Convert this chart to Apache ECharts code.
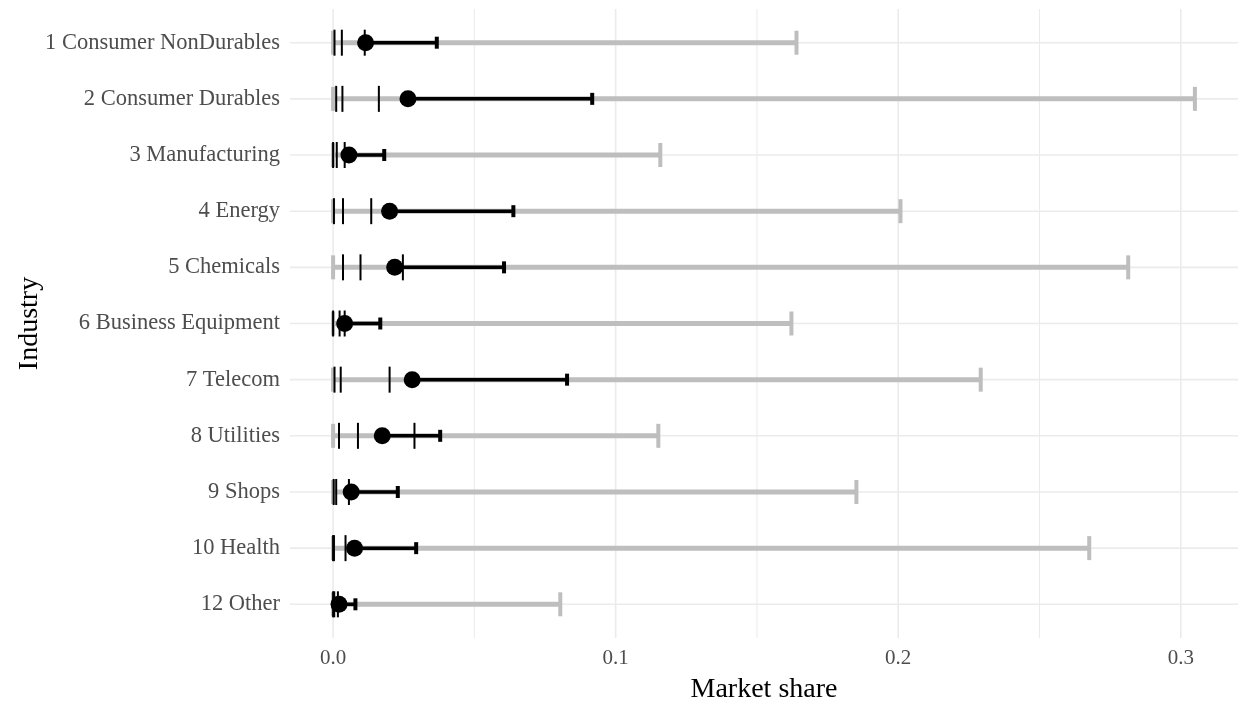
<!doctype html>
<html lang="en">
<head>
    <meta charset="UTF-8">
    <title>Market share by industry</title>
    <script src="https://cdn.jsdelivr.net/npm/echarts@6/dist/echarts.min.js"></script>
    <style>
        html, body { margin: 0; padding: 0; background: #fff; }
        #chart { width: 1238px; height: 702px; }
    </style>
</head>
<body>
<div id="chart"></div>
<script>
    // industries, top to bottom
    const industries = [
        '1 Consumer NonDurables', '2 Consumer Durables', '3 Manufacturing', '4 Energy',
        '5 Chemicals', '6 Business Equipment', '7 Telecom', '8 Utilities',
        '9 Shops', '10 Health', '12 Other'
    ];
    // grey range: min .. max
    const shareMin = [0, 0, 0, 0, 0, 0, 0, 0, 0, 0, 0];
    const shareMax = [0.164, 0.305, 0.1158, 0.2008, 0.2814, 0.1622, 0.2292, 0.1151, 0.1852, 0.2676, 0.0804];
    // black range: mean .. upper
    const shareMean = [0.0115, 0.0265, 0.0056, 0.0200, 0.0218, 0.0041, 0.0280, 0.0174, 0.0064, 0.0076, 0.0021];
    const shareUpper = [0.0367, 0.0917, 0.0181, 0.0638, 0.0605, 0.0167, 0.0828, 0.0379, 0.0229, 0.0294, 0.0079];
    // vertical marks
    const tickLow = [0.0005, 0.0011, 0.0000, 0.0003, 0.0035, 0.0000, 0.0005, 0.0021, 0.0002, 0.0000, 0.0000];
    const tickMid = [0.0031, 0.0033, 0.0013, 0.0035, 0.0097, 0.0023, 0.0027, 0.0088, 0.0011, 0.0003, 0.0004];
    const tickHigh = [0.0112, 0.0162, 0.0041, 0.0135, 0.0247, 0.0041, 0.0200, 0.0288, 0.0056, 0.0044, 0.0017];
    const xTicks = [0, 0.1, 0.2, 0.3];
    const xMinorTicks = [0.05, 0.15, 0.25];

    const serif = "'Liberation Serif', 'Times New Roman', serif";
    const rows = industries.map((d, i) => i + 1);

    function errorBar(color, lineWidth, capHeight, capWidth) {
        return function (params, api) {
            const y = api.value(0);
            const a = api.coord([api.value(1), y]);
            const b = api.coord([api.value(2), y]);
            const h = capHeight / 2;
            return {
                type: 'group',
                children: [
                    {
                        type: 'line',
                        shape: { x1: a[0], y1: a[1], x2: b[0], y2: b[1] },
                        style: { stroke: color, lineWidth: lineWidth, fill: null }
                    },
                    {
                        type: 'line',
                        shape: { x1: a[0], y1: a[1] - h, x2: a[0], y2: a[1] + h },
                        style: { stroke: color, lineWidth: capWidth, fill: null }
                    },
                    {
                        type: 'line',
                        shape: { x1: b[0], y1: b[1] - h, x2: b[0], y2: b[1] + h },
                        style: { stroke: color, lineWidth: capWidth, fill: null }
                    }
                ]
            };
        };
    }

    // panel grid lines spanning the whole plotting area
    function gridLine(vertical) {
        return function (params, api) {
            const cs = params.coordSys;
            const p = api.coord([api.value(0), api.value(1)]);
            const w = api.value(2);
            const shape = vertical
                ? { x1: p[0], y1: cs.y, x2: p[0], y2: cs.y + cs.height }
                : { x1: cs.x, y1: p[1], x2: cs.x + cs.width, y2: p[1] };
            return { type: 'line', shape: shape, style: { stroke: '#EBEBEB', lineWidth: w, fill: null } };
        };
    }

    const greyData = rows.map((r, i) => [r, shareMin[i], shareMax[i]]);
    const blackData = rows.map((r, i) => [r, shareMean[i], shareUpper[i]]);
    const dotData = rows.map((r, i) => [shareMean[i], r]);
    const markData = [];
    rows.forEach((r, i) => {
        markData.push([tickLow[i], r], [tickMid[i], r], [tickHigh[i], r]);
    });
    const vGrid = [...xTicks.map(v => [v, 1, 1.6]), ...xMinorTicks.map(v => [v, 1, 1])];
    const hGrid = rows.map(r => [0, r, 1.6]);

    const myChart = echarts.init(document.getElementById('chart'));
    const option = {
        backgroundColor: '#fff',
        animation: false,
        grid: { left: 290, right: 0, top: 9, bottom: 64, containLabel: false, outerBoundsMode: 'none' },
        xAxis: {
            type: 'value',
            min: -0.01525,
            max: 0.32025,
            axisLine: { show: false },
            axisTick: { show: false },
            splitLine: { show: false },
            axisLabel: {
                customValues: xTicks,
                formatter: v => v.toFixed(1),
                color: '#4D4D4D',
                fontFamily: serif,
                fontSize: 21,
                margin: 10
            },
            name: 'Market share',
            nameLocation: 'middle',
            nameGap: 38,
            nameMoveOverlap: false,
            nameTextStyle: { color: '#000', fontFamily: serif, fontSize: 28 }
        },
        yAxis: {
            type: 'value',
            inverse: true,
            min: 0.4,
            max: 11.6,
            axisLine: { show: false },
            axisTick: { show: false },
            splitLine: { show: false },
            axisLabel: {
                customValues: rows,
                formatter: v => industries[Math.round(v) - 1],
                color: '#4D4D4D',
                fontFamily: serif,
                fontSize: 22.5,
                margin: 10
            },
            name: 'Industry',
            nameLocation: 'middle',
            nameGap: 246,
            nameMoveOverlap: false,
            nameTextStyle: { color: '#000', fontFamily: serif, fontSize: 28 }
        },
        series: [
            {
                type: 'custom',
                z: 0,
                silent: true,
                renderItem: gridLine(true),
                data: vGrid
            },
            {
                type: 'custom',
                z: 0,
                silent: true,
                renderItem: gridLine(false),
                data: hGrid
            },
            {
                type: 'custom',
                z: 2,
                silent: true,
                renderItem: errorBar('#BEBEBE', 5, 24, 4),
                encode: { x: [1, 2], y: 0 },
                data: greyData
            },
            {
                type: 'custom',
                z: 3,
                silent: true,
                renderItem: errorBar('#000', 3.5, 12, 4),
                encode: { x: [1, 2], y: 0 },
                data: blackData
            },
            {
                type: 'scatter',
                z: 4,
                symbol: 'circle',
                symbolSize: 17,
                itemStyle: { color: '#000', opacity: 1 },
                data: dotData
            },
            {
                type: 'scatter',
                z: 5,
                symbol: 'rect',
                symbolSize: [2, 26],
                itemStyle: { color: '#000', opacity: 1 },
                data: markData
            }
        ]
    };

    myChart.setOption(option);
</script>
</body>
</html>
